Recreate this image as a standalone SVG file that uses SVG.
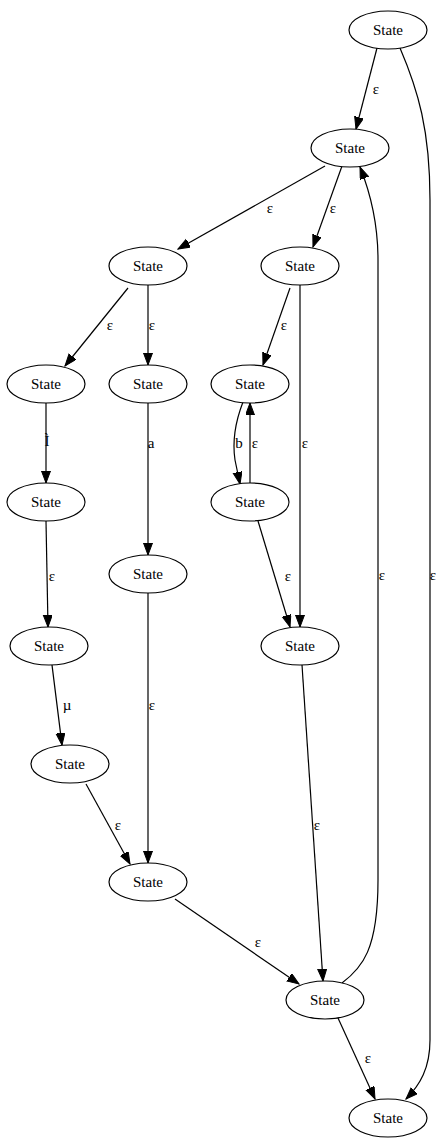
<svg xmlns="http://www.w3.org/2000/svg" width="440" height="1147" viewBox="0 0 440 1147">
<style>
  .node ellipse { fill: #ffffff; stroke: #000000; stroke-width: 1.2; }
  .node text, .lbl { font-family: "Liberation Serif", "Times New Roman", serif; font-size: 15px; fill: #000000; text-anchor: middle; }
  .edge path { fill: none; stroke: #000000; stroke-width: 1.2; marker-end: url(#arrow); }
</style>
<defs>
  <marker id="arrow" markerUnits="userSpaceOnUse" markerWidth="13" markerHeight="10" refX="12" refY="4.5" orient="auto">
    <path d="M0,0 L12,4.5 L0,9 Z" fill="#000000" stroke="#000000" stroke-width="1"/>
  </marker>
</defs>
<rect width="440" height="1147" fill="#ffffff"/>

<g id="edges">
  <g class="edge"><path d="M377,48 L356,129"/><text class="lbl" x="376" y="94">ε</text></g>
  <g class="edge"><path d="M400,48 C418,90 430,130 430,200 L430,1040 C430,1068 420,1085 406,1099"/><text class="lbl" x="433" y="580">ε</text></g>
  <g class="edge"><path d="M325,166 L178,249"/><text class="lbl" x="270" y="213">ε</text></g>
  <g class="edge"><path d="M342,166 L313,247"/><text class="lbl" x="333" y="213">ε</text></g>
  <g class="edge"><path d="M342,983 C362,968 378,950 378,880 L378,260 C378,222 370,192 360,167"/><text class="lbl" x="382" y="580">ε</text></g>
  <g class="edge"><path d="M128,288 L65,366"/><text class="lbl" x="110" y="330">ε</text></g>
  <g class="edge"><path d="M148,285 L148,365"/><text class="lbl" x="152" y="330">ε</text></g>
  <g class="edge"><path d="M290,288 L263,365"/><text class="lbl" x="284" y="330">ε</text></g>
  <g class="edge"><path d="M300,285 L300,627"/><text class="lbl" x="305" y="448">ε</text></g>
  <g class="edge"><path d="M46,403 L46,483"/><text class="lbl" x="47" y="446">Ì</text></g>
  <g class="edge"><path d="M148,403 L148,555"/><text class="lbl" x="151" y="448">a</text></g>
  <g class="edge"><path d="M243,402 C236,420 232,440 235,460 L240,484"/><text class="lbl" x="239" y="448">b</text></g>
  <g class="edge"><path d="M250,483 L250,403"/><text class="lbl" x="255" y="448">ε</text></g>
  <g class="edge"><path d="M46,521 L48,627"/><text class="lbl" x="52" y="581">ε</text></g>
  <g class="edge"><path d="M258,521 L290,627"/><text class="lbl" x="288" y="581">ε</text></g>
  <g class="edge"><path d="M148,593 L148,863"/><text class="lbl" x="152" y="710">ε</text></g>
  <g class="edge"><path d="M52,665 L62,745"/><text class="lbl" x="67" y="710">µ</text></g>
  <g class="edge"><path d="M302,665 L323,981"/><text class="lbl" x="317" y="830">ε</text></g>
  <g class="edge"><path d="M86,784 L130,864"/><text class="lbl" x="118" y="830">ε</text></g>
  <g class="edge"><path d="M175,899 L299,984"/><text class="lbl" x="258" y="947">ε</text></g>
  <g class="edge"><path d="M338,1018 L375,1099"/><text class="lbl" x="368" y="1063">ε</text></g>
</g>

<g id="n0" class="node"><ellipse cx="388" cy="30" rx="39" ry="19"/><text x="388" y="35">State</text></g>
<g id="n1" class="node"><ellipse cx="350" cy="148" rx="39" ry="19"/><text x="350" y="153">State</text></g>
<g id="n2" class="node"><ellipse cx="148" cy="266" rx="39" ry="19"/><text x="148" y="271">State</text></g>
<g id="n3" class="node"><ellipse cx="300" cy="266" rx="39" ry="19"/><text x="300" y="271">State</text></g>
<g id="n4" class="node"><ellipse cx="46" cy="384" rx="39" ry="19"/><text x="46" y="389">State</text></g>
<g id="n5" class="node"><ellipse cx="148" cy="384" rx="39" ry="19"/><text x="148" y="389">State</text></g>
<g id="n6" class="node"><ellipse cx="250" cy="384" rx="39" ry="19"/><text x="250" y="389">State</text></g>
<g id="n7" class="node"><ellipse cx="46" cy="502" rx="39" ry="19"/><text x="46" y="507">State</text></g>
<g id="n8" class="node"><ellipse cx="250" cy="502" rx="39" ry="19"/><text x="250" y="507">State</text></g>
<g id="n9" class="node"><ellipse cx="148" cy="574" rx="39" ry="19"/><text x="148" y="579">State</text></g>
<g id="n10" class="node"><ellipse cx="49" cy="646" rx="39" ry="19"/><text x="49" y="651">State</text></g>
<g id="n11" class="node"><ellipse cx="300" cy="646" rx="39" ry="19"/><text x="300" y="651">State</text></g>
<g id="n12" class="node"><ellipse cx="70" cy="764" rx="39" ry="19"/><text x="70" y="769">State</text></g>
<g id="n13" class="node"><ellipse cx="148" cy="882" rx="39" ry="19"/><text x="148" y="887">State</text></g>
<g id="n14" class="node"><ellipse cx="325" cy="1000" rx="39" ry="19"/><text x="325" y="1005">State</text></g>
<g id="n15" class="node"><ellipse cx="388" cy="1118" rx="39" ry="19"/><text x="388" y="1123">State</text></g>
</svg>
